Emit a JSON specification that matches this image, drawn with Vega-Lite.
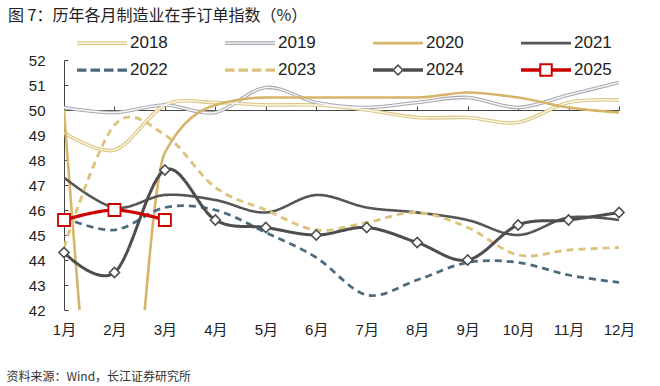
{
  "$schema": "https://vega.github.io/schema/vega-lite/v6.json",
  "width": 555,
  "height": 250,
  "autosize": {"type": "none"},
  "padding": {"left": 64, "top": 60, "right": 41, "bottom": 76},
  "config": {
    "font": "Liberation Sans, Noto Sans CJK SC",
    "view": {"stroke": null},
    "legend": {"padding": 0}
  },
  "title": {
    "text": "图 7：历年各月制造业在手订单指数（%）",
    "anchor": "start",
    "frame": "group",
    "dx": -56,
    "dy": 1,
    "offset": 10,
    "fontSize": 16,
    "fontWeight": "normal",
    "font": "Noto Sans CJK SC",
    "color": "#222222"
  },
  "data": {
    "values": [
      {"year": "2018", "m": "1月", "v": 49.1}, {"year": "2018", "m": "2月", "v": 48.4}, {"year": "2018", "m": "3月", "v": 50.2}, {"year": "2018", "m": "4月", "v": 50.3}, {"year": "2018", "m": "5月", "v": 50.2}, {"year": "2018", "m": "6月", "v": 50.2}, {"year": "2018", "m": "7月", "v": 50.0}, {"year": "2018", "m": "8月", "v": 49.7}, {"year": "2018", "m": "9月", "v": 49.7}, {"year": "2018", "m": "10月", "v": 49.5}, {"year": "2018", "m": "11月", "v": 50.3}, {"year": "2018", "m": "12月", "v": 50.4},
      {"year": "2019", "m": "1月", "v": 50.1}, {"year": "2019", "m": "2月", "v": 49.9}, {"year": "2019", "m": "3月", "v": 50.2}, {"year": "2019", "m": "4月", "v": 49.9}, {"year": "2019", "m": "5月", "v": 50.9}, {"year": "2019", "m": "6月", "v": 50.3}, {"year": "2019", "m": "7月", "v": 50.1}, {"year": "2019", "m": "8月", "v": 50.3}, {"year": "2019", "m": "9月", "v": 50.5}, {"year": "2019", "m": "10月", "v": 50.1}, {"year": "2019", "m": "11月", "v": 50.6}, {"year": "2019", "m": "12月", "v": 51.1},
      {"year": "2020", "m": "1月", "v": 50.0}, {"year": "2020", "m": "2月", "v": 32.0}, {"year": "2020", "m": "3月", "v": 48.3}, {"year": "2020", "m": "4月", "v": 50.2}, {"year": "2020", "m": "5月", "v": 50.5}, {"year": "2020", "m": "6月", "v": 50.5}, {"year": "2020", "m": "7月", "v": 50.5}, {"year": "2020", "m": "8月", "v": 50.5}, {"year": "2020", "m": "9月", "v": 50.7}, {"year": "2020", "m": "10月", "v": 50.5}, {"year": "2020", "m": "11月", "v": 50.1}, {"year": "2020", "m": "12月", "v": 49.9},
      {"year": "2021", "m": "1月", "v": 47.3}, {"year": "2021", "m": "2月", "v": 46.1}, {"year": "2021", "m": "3月", "v": 46.6}, {"year": "2021", "m": "4月", "v": 46.4}, {"year": "2021", "m": "5月", "v": 45.9}, {"year": "2021", "m": "6月", "v": 46.6}, {"year": "2021", "m": "7月", "v": 46.1}, {"year": "2021", "m": "8月", "v": 45.9}, {"year": "2021", "m": "9月", "v": 45.6}, {"year": "2021", "m": "10月", "v": 45.0}, {"year": "2021", "m": "11月", "v": 45.7}, {"year": "2021", "m": "12月", "v": 45.6},
      {"year": "2022", "m": "1月", "v": 45.7}, {"year": "2022", "m": "2月", "v": 45.2}, {"year": "2022", "m": "3月", "v": 46.1}, {"year": "2022", "m": "4月", "v": 46.0}, {"year": "2022", "m": "5月", "v": 45.1}, {"year": "2022", "m": "6月", "v": 44.1}, {"year": "2022", "m": "7月", "v": 42.6}, {"year": "2022", "m": "8月", "v": 43.2}, {"year": "2022", "m": "9月", "v": 43.9}, {"year": "2022", "m": "10月", "v": 43.9}, {"year": "2022", "m": "11月", "v": 43.4}, {"year": "2022", "m": "12月", "v": 43.1},
      {"year": "2023", "m": "1月", "v": 44.5}, {"year": "2023", "m": "2月", "v": 49.4}, {"year": "2023", "m": "3月", "v": 49.0}, {"year": "2023", "m": "4月", "v": 46.9}, {"year": "2023", "m": "5月", "v": 46.0}, {"year": "2023", "m": "6月", "v": 45.2}, {"year": "2023", "m": "7月", "v": 45.5}, {"year": "2023", "m": "8月", "v": 45.9}, {"year": "2023", "m": "9月", "v": 45.3}, {"year": "2023", "m": "10月", "v": 44.2}, {"year": "2023", "m": "11月", "v": 44.4}, {"year": "2023", "m": "12月", "v": 44.5},
      {"year": "2024", "m": "1月", "v": 44.3}, {"year": "2024", "m": "2月", "v": 43.5}, {"year": "2024", "m": "3月", "v": 47.6}, {"year": "2024", "m": "4月", "v": 45.6}, {"year": "2024", "m": "5月", "v": 45.3}, {"year": "2024", "m": "6月", "v": 45.0}, {"year": "2024", "m": "7月", "v": 45.3}, {"year": "2024", "m": "8月", "v": 44.7}, {"year": "2024", "m": "9月", "v": 44.0}, {"year": "2024", "m": "10月", "v": 45.4}, {"year": "2024", "m": "11月", "v": 45.6}, {"year": "2024", "m": "12月", "v": 45.9},
      {"year": "2025", "m": "1月", "v": 45.6}, {"year": "2025", "m": "2月", "v": 46.0}, {"year": "2025", "m": "3月", "v": 45.6}
    ]
  },
  "layer": [
    {
      "transform": [{"filter": {"field": "year", "oneOf": ["2018", "2019"]}}],
      "mark": {"type": "line", "interpolate": "cardinal", "strokeWidth": 3.6, "clip": true},
      "encoding": {
        "x": {
          "field": "m", "type": "ordinal",
          "sort": ["1月","2月","3月","4月","5月","6月","7月","8月","9月","10月","11月","12月"],
          "scale": {"type": "point", "padding": 0},
          "axis": {
            "orient": "bottom", "domain": false, "ticks": false, "labelAngle": 0,
            "labelFontSize": 15, "labelColor": "#222222", "labelPadding": 12, "labelBaseline": "top",
            "title": "资料来源：Wind，长江证券研究所",
            "titleFont": "Noto Sans CJK SC", "titleFontSize": 12, "titleFontWeight": "normal", "titleColor": "#333333",
            "titleAnchor": "start", "titleAlign": "left", "titleBaseline": "alphabetic",
            "titleX": -58, "titleY": 70
          }
        },
        "y": {
          "field": "v", "type": "quantitative",
          "scale": {"domain": [42, 52]},
          "axis": {
            "values": [42,43,44,45,46,47,48,49,50,51,52], "title": null, "grid": false,
            "domainColor": "#444444", "tickColor": "#444444", "tickSize": -4,
            "labelFontSize": 15, "labelColor": "#222222", "labelPadding": 23
          }
        },
        "color": {
          "field": "year", "type": "nominal",
          "scale": {
            "domain": ["2018","2019","2020","2021","2022","2023","2024","2025"],
            "range": ["#dcc684","#a8a8b0","#d6b46a","#555555","#4d6a7c","#dcc27c","#4d4d4d","#cc0000"]
          },
          "legend": {
            "orient": "none", "legendX": 13, "legendY": -27, "title": null, "columns": 4, "direction": "horizontal",
            "symbolSize": 2500, "labelFontSize": 17, "labelColor": "#222222", "labelOffset": 3,
            "columnPadding": 57, "rowPadding": 7, "clipHeight": 20,
            "encode": {
              "symbols": {
                "update": {
                  "shape": {"signal": "datum.value==='2024' ? 'M-1,-0.07H-0.2V0.07H-1ZM0.2,-0.07H1V0.07H0.2ZM0,-0.24L0.24,0L0,0.24L-0.24,0ZM0,-0.15L-0.15,0L0,0.15L0.15,0Z' : datum.value==='2025' ? 'M-1,-0.07H-0.27V0.07H-1ZM0.27,-0.07H1V0.07H0.27ZM-0.27,-0.27H0.27V0.27H-0.27ZM-0.19,-0.19V0.19H0.19V-0.19Z' : (datum.value==='2018'||datum.value==='2019') ? 'M-1,-0.075H1V0.075H-1ZM-1,-0.025V0.025H1V-0.025Z' : (datum.value==='2022'||datum.value==='2023') ? 'M-1,-0.065H-0.62V0.065H-1ZM-0.46,-0.065H-0.08V0.065H-0.46ZM0.08,-0.065H0.46V0.065H0.08ZM0.62,-0.065H1V0.065H0.62Z' : 'M-1,-0.055H1V0.055H-1Z'"},
                  "fill": {"signal": "({'2018':'#dcc684','2019':'#a8a8b0','2020':'#d6b46a','2021':'#555555','2022':'#4d6a7c','2023':'#dcc27c','2024':'#4d4d4d','2025':'#cc0000'})[datum.value]"},
                  "fillOpacity": {"value": 1},
                  "strokeWidth": {"value": 0},
                  "opacity": {"value": 1}
                }
              }
            }
          }
        }
      }
    },
    {
      "transform": [{"filter": {"field": "year", "oneOf": ["2018", "2019"]}}],
      "mark": {"type": "line", "interpolate": "cardinal", "strokeWidth": 1.4, "clip": true},
      "encoding": {
        "x": {
          "field": "m", "type": "ordinal",
          "sort": ["1月","2月","3月","4月","5月","6月","7月","8月","9月","10月","11月","12月"],
          "scale": {"type": "point", "padding": 0},
          "axis": {
            "orient": "top", "offset": -50, "labels": false, "title": null,
            "domainColor": "#444444", "tickColor": "#444444", "tickSize": 4
          }
        },
        "y": {
          "field": "v", "type": "quantitative",
          "scale": {"domain": [42, 52]},
          "axis": {
            "values": [42,43,44,45,46,47,48,49,50,51,52], "title": null, "grid": false,
            "domainColor": "#444444", "tickColor": "#444444", "tickSize": -4,
            "labelFontSize": 15, "labelColor": "#222222", "labelPadding": 23
          }
        },
        "detail": {"field": "year"},
        "stroke": {"condition": {"test": "datum.year==='2018'", "value": "#fbf6e4"}, "value": "#f6f6f8"}
      }
    },
    {
      "transform": [{"filter": {"field": "year", "equal": "2020"}}],
      "mark": {"type": "line", "interpolate": "monotone", "strokeWidth": 2.6, "clip": true},
      "encoding": {
        "x": {
          "field": "m", "type": "ordinal",
          "sort": ["1月","2月","3月","4月","5月","6月","7月","8月","9月","10月","11月","12月"],
          "scale": {"type": "point", "padding": 0},
          "axis": null
        },
        "y": {
          "field": "v", "type": "quantitative",
          "scale": {"domain": [42, 52]},
          "axis": {
            "values": [42,43,44,45,46,47,48,49,50,51,52], "title": null, "grid": false,
            "domainColor": "#444444", "tickColor": "#444444", "tickSize": -4,
            "labelFontSize": 15, "labelColor": "#222222", "labelPadding": 23
          }
        },
        "color": {"field": "year", "type": "nominal"}
      }
    },
    {
      "transform": [{"filter": {"field": "year", "oneOf": ["2021","2022","2023","2024","2025"]}}],
      "mark": {"type": "line", "interpolate": "cardinal", "clip": true},
      "encoding": {
        "x": {
          "field": "m", "type": "ordinal",
          "sort": ["1月","2月","3月","4月","5月","6月","7月","8月","9月","10月","11月","12月"],
          "scale": {"type": "point", "padding": 0},
          "axis": null
        },
        "y": {
          "field": "v", "type": "quantitative",
          "scale": {"domain": [42, 52]},
          "axis": {
            "values": [42,43,44,45,46,47,48,49,50,51,52], "title": null, "grid": false,
            "domainColor": "#444444", "tickColor": "#444444", "tickSize": -4,
            "labelFontSize": 15, "labelColor": "#222222", "labelPadding": 23
          }
        },
        "color": {"field": "year", "type": "nominal"},
        "strokeDash": {
          "field": "year", "type": "nominal", "legend": null,
          "scale": {"domain": ["2021","2022","2023","2024","2025"], "range": [[1,0],[7,5],[7,5],[1,0],[1,0]]}
        },
        "strokeWidth": {
          "field": "year", "type": "nominal", "legend": null,
          "scale": {"domain": ["2021","2022","2023","2024","2025"], "range": [2.6, 3.2, 3.2, 3.4, 3.8]}
        }
      }
    },
    {
      "transform": [{"filter": {"field": "year", "equal": "2024"}}],
      "mark": {"type": "point", "shape": "diamond", "filled": true, "fill": "#ffffff", "stroke": "#4d4d4d", "strokeWidth": 1.6, "size": 100, "opacity": 1},
      "encoding": {
        "x": {
          "field": "m", "type": "ordinal",
          "sort": ["1月","2月","3月","4月","5月","6月","7月","8月","9月","10月","11月","12月"],
          "scale": {"type": "point", "padding": 0},
          "axis": null
        },
        "y": {
          "field": "v", "type": "quantitative",
          "scale": {"domain": [42, 52]},
          "axis": {
            "values": [42,43,44,45,46,47,48,49,50,51,52], "title": null, "grid": false,
            "domainColor": "#444444", "tickColor": "#444444", "tickSize": -4,
            "labelFontSize": 15, "labelColor": "#222222", "labelPadding": 23
          }
        }
      }
    },
    {
      "transform": [{"filter": {"field": "year", "equal": "2025"}}],
      "mark": {"type": "point", "shape": "square", "filled": true, "fill": "#ffffff", "stroke": "#cc0000", "strokeWidth": 1.8, "size": 144, "opacity": 1},
      "encoding": {
        "x": {
          "field": "m", "type": "ordinal",
          "sort": ["1月","2月","3月","4月","5月","6月","7月","8月","9月","10月","11月","12月"],
          "scale": {"type": "point", "padding": 0},
          "axis": null
        },
        "y": {
          "field": "v", "type": "quantitative",
          "scale": {"domain": [42, 52]},
          "axis": {
            "values": [42,43,44,45,46,47,48,49,50,51,52], "title": null, "grid": false,
            "domainColor": "#444444", "tickColor": "#444444", "tickSize": -4,
            "labelFontSize": 15, "labelColor": "#222222", "labelPadding": 23
          }
        }
      }
    }
  ],
  "resolve": {"axis": {"x": "independent"}}
}
